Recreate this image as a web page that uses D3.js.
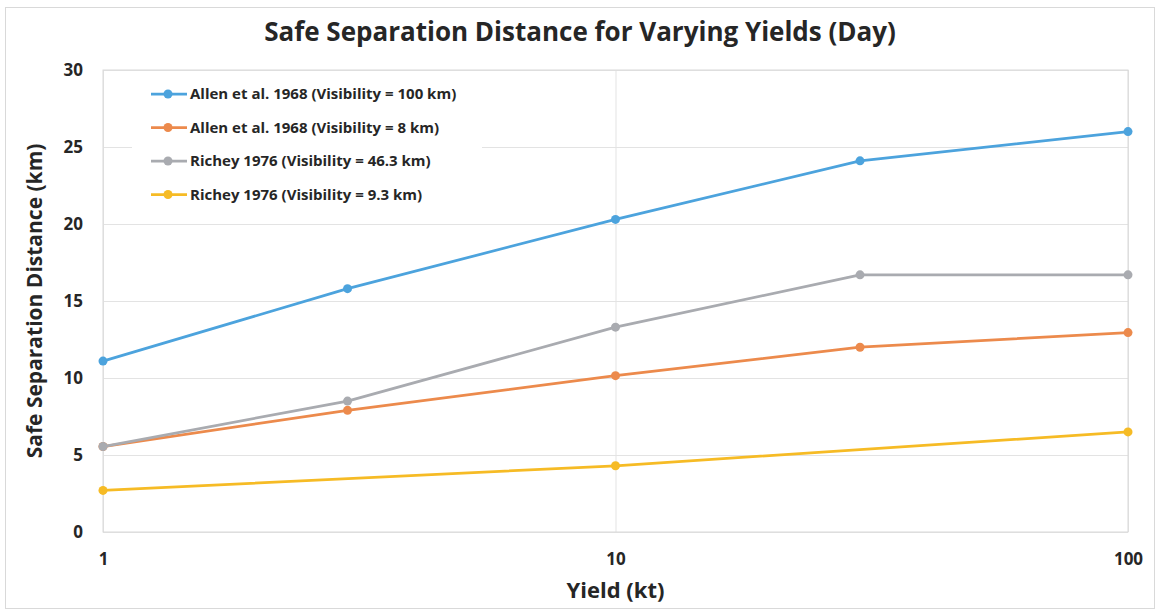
<!DOCTYPE html>
<html>
<head>
<meta charset="utf-8">
<script src="https://cdn.jsdelivr.net/npm/d3@7"></script>
<style>
  body { margin: 0; background: #fff; }
  svg text { font-family: "Open Sans", "Noto Sans", sans-serif; fill: #262626; }
</style>
</head>
<body>
<div id="chart"></div>
<script>
// yields in kt (log axis)
const yields = [1, 3, 10, 30, 100];

// safe separation distance, km
const allen100 = [11.1, 15.8, 20.3, 24.1, 26.0];
const allen8 = [5.55, 7.9, 10.15, 12.0, 12.95];
const richey46 = [5.55, 8.5, 13.3, 16.7, 16.7];
const richey9 = [2.7, null, 4.3, null, 6.5];

const seriesNames = [
  'Allen et al. 1968 (Visibility = 100 km)',
  'Allen et al. 1968 (Visibility = 8 km)',
  'Richey 1976 (Visibility = 46.3 km)',
  'Richey 1976 (Visibility = 9.3 km)'
];
const seriesValues = [allen100, allen8, richey46, richey9];
const colors = ['#4ca3dd', '#ec8a4c', '#a9abb0', '#f6bb25'];

const yTicks = [0, 5, 10, 15, 20, 25, 30];
const xTicks = [1, 10, 100];

const width = 1160;
const height = 612;
const plot = { left: 103, right: 1128, top: 70, bottom: 532 };

const svg = d3.select('#chart').append('svg')
  .attr('width', width)
  .attr('height', height);

// chart frame
svg.append('rect')
  .attr('x', 5.5).attr('y', 7.5)
  .attr('width', 1149).attr('height', 601)
  .attr('fill', '#fff')
  .attr('stroke', '#d9d9d9');

const x = d3.scaleLog().domain([1, 100]).range([plot.left, plot.right]);
const y = d3.scaleLinear().domain([0, 30]).range([plot.bottom, plot.top]);

// horizontal gridlines
svg.append('g')
  .attr('transform', `translate(${plot.left},0)`)
  .call(d3.axisLeft(y).tickValues(yTicks).tickSize(-(plot.right - plot.left)).tickFormat(''))
  .call(g => g.select('.domain').remove())
  .call(g => g.selectAll('line').attr('stroke', '#e3e3e3'));

// vertical gridlines
svg.append('g')
  .attr('transform', `translate(0,${plot.bottom})`)
  .call(d3.axisBottom(x).tickValues(xTicks).tickSize(-(plot.bottom - plot.top)).tickFormat(''))
  .call(g => g.select('.domain').remove())
  .call(g => g.selectAll('line').attr('stroke', '#e3e3e3'));

// plot border
svg.append('rect')
  .attr('x', plot.left).attr('y', plot.top)
  .attr('width', plot.right - plot.left).attr('height', plot.bottom - plot.top)
  .attr('fill', 'none')
  .attr('stroke', '#d9d9d9');

// y tick labels
svg.append('g')
  .attr('transform', `translate(${plot.left},0)`)
  .call(d3.axisLeft(y).tickValues(yTicks).tickSize(0).tickPadding(20))
  .call(g => g.select('.domain').remove())
  .call(g => g.selectAll('text')
    .style('font-size', '17px').style('font-weight', 'bold'));

// x tick labels
svg.append('g')
  .attr('transform', `translate(0,${plot.bottom})`)
  .call(d3.axisBottom(x).tickValues(xTicks).tickFormat(d3.format('d')).tickSize(0).tickPadding(21))
  .call(g => g.select('.domain').remove())
  .call(g => g.selectAll('text')
    .style('font-size', '17px').style('font-weight', 'bold'));

// legend box (white, hides grid behind it)
const legend = svg.append('g');
legend.append('rect')
  .attr('x', 132).attr('y', 78)
  .attr('width', 350).attr('height', 132)
  .attr('fill', '#fff');

// series
const line = d3.line()
  .x(d => x(d[0]))
  .y(d => y(d[1]));

seriesValues.forEach((vals, i) => {
  const pts = yields.map((yv, j) => [yv, vals[j]]).filter(d => d[1] != null);
  svg.append('path')
    .datum(pts)
    .attr('d', line)
    .attr('fill', 'none')
    .attr('stroke', colors[i])
    .attr('stroke-width', 2.75)
    .attr('stroke-linejoin', 'round');
  svg.append('g').selectAll('circle')
    .data(pts)
    .enter()
    .append('circle')
      .attr('cx', d => x(d[0]))
      .attr('cy', d => y(d[1]))
      .attr('r', 4.5)
      .attr('fill', colors[i]);
});

const legendRows = [94, 127.5, 161, 194.5];
seriesNames.forEach((name, i) => {
  const ly = legendRows[i];
  legend.append('line')
    .attr('x1', 151).attr('x2', 187)
    .attr('y1', ly).attr('y2', ly)
    .attr('stroke', colors[i])
    .attr('stroke-width', 2.75);
  legend.append('circle')
    .attr('cx', 168).attr('cy', ly).attr('r', 4.5)
    .attr('fill', colors[i]);
  legend.append('text')
    .attr('x', 190).attr('y', ly)
    .attr('dy', '0.35em')
    .style('font-size', '15px')
    .style('font-weight', 'bold')
    .text(name);
});

// titles
svg.append('text')
  .attr('x', 580).attr('y', 41)
  .attr('text-anchor', 'middle')
  .style('font-size', '26px')
  .style('font-weight', 'bold')
  .text('Safe Separation Distance for Varying Yields (Day)');

svg.append('text')
  .attr('x', (plot.left + plot.right) / 2).attr('y', 598)
  .attr('text-anchor', 'middle')
  .style('font-size', '22px')
  .style('font-weight', 'bold')
  .text('Yield (kt)');

svg.append('text')
  .attr('transform', `translate(42,${(plot.top + plot.bottom) / 2}) rotate(-90)`)
  .attr('text-anchor', 'middle')
  .style('font-size', '21px')
  .style('font-weight', 'bold')
  .text('Safe Separation Distance (km)');
</script>
</body>
</html>
